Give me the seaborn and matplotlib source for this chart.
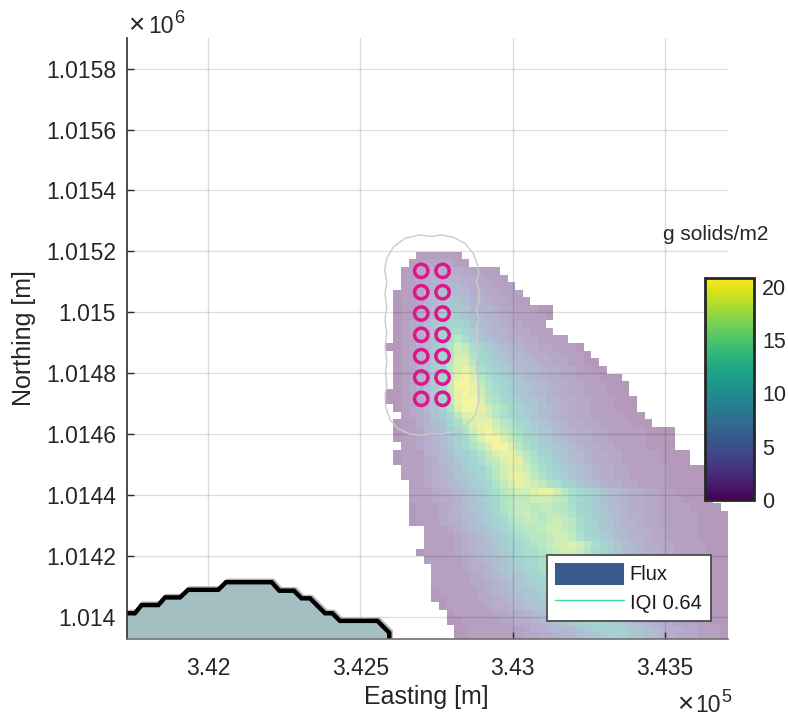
import numpy as np
import pandas as pd
import seaborn as sns
import matplotlib
matplotlib.use("Agg")
import matplotlib.pyplot as plt
from matplotlib.lines import Line2D
from matplotlib.patches import Patch

# plume cells, one string per row from the north edge, 0-9 then a=10 ... l=21 g/m2
row_start = [4, 3, 2, 2, 2, 1, 1, 1, 1, 1, 1, 1, 0, 1, 1, 1, 1, 1, 0, 0, 1, 2, 1, 1, 1, 2,
             1, 1, 2, 2, 3, 3, 3, 3, 3, 3, 5, 5, 5, 4, 5, 6, 6, 6, 6, 6, 7, 8, 8, 9, 9]
row_vals = [
    "111111",
    "11222211",
    "1123333322111",
    "11234444332111",
    "112345554322111",
    "01124566653322111",
    "011245777644322111",
    "011346888754432211100",
    "0113568a9865443211110",
    "0123579bba7654322111",
    "012357acdb97544322111",
    "012358adfda865433221111",
    "0012458behgdb9765433221110",
    "012468behheba8755433221110",
    "012469bfiifcb98655433221100",
    "012469bfijhdca97655433221100",
    "012469cgjkifdba876543322111000",
    "012469cgkkjgecb9876543322111000",
    "0012469cgjkjhedba876543322111000",
    "0012358bfjkkifecb9876443322111000",
    "012357aeikkjhfecb986543322111000",
    "123479cfijihfdca9865433221111000",
    "0113468bdgijjhfecb9865433221111000",
    "01124579behjkigfdba875443322111110000",
    "01123568acfikkigecb986543322111110000",
    "1123468acegikkifdca97654332211110000",
    "011134579acegijjhfdba876543322111110000",
    "0111235689bdfgijjgecb986543322111110000",
    "111234679abdfhiihfdca97654332211111000000",
    "1112345789bdfhjjigecb98654332211111000000",
    "112345679acegijihgedba865433221111000000",
    "1112345689bdfghhijjhfdca9765433221100000",
    "1112334679acefgghhhgfdca9765433221110000",
    "0111234578acefggfggfedba97654332211110000",
    "01112345689bdfghgfggfecb986543322111110000",
    "01112335679acefggfghgfdba87544322111110000",
    "1112345689bdeffghhgfdba87654332211110000",
    "1111234578abdeffghhgecb98654432211110000",
    "11112345689acdefghhihfdba865433221111000",
    "011112345689acddefghhgecb9765433221111000",
    "111112345679abcdefggffdba875433221111000",
    "111123346789bcdefffedba8765433221110000",
    "111112345678abcdeeedcb98754432211110000",
    "1111122345689abcdddcba97654332211110000",
    "01111123456789abccccba97654332211100000",
    "001111223456789abcccba98654332211100000",
    "011111233456789abbccba9865433221110000",
    "0111112233456789abbbba986543221111000",
    "00111112233456789aabba976543221110000",
    "0011111112334556789aaa98765433221110",
    "00111111122334556789aa98765432221110",
]

# model domain, metres
cell_size = 25
cell_e0 = 342583.3
cell_n0 = 1015199.0

x_ticks = [342000, 342500, 343000, 343500]
x_labels = ["3.42", "3.425", "3.43", "3.435"]
y_ticks = [1015800, 1015600, 1015400, 1015200, 1015000, 1014800, 1014600, 1014400, 1014200, 1014000]
y_labels = ["1.0158", "1.0156", "1.0154", "1.0152", "1.015", "1.0148", "1.0146", "1.0144", "1.0142", "1.014"]
cbar_ticks = [0, 5, 10, 15, 20]
cbar_max = 20.8

# sources
src_e = [342700, 342770]
src_n = [1015136, 1015066, 1014996, 1014926, 1014856, 1014786, 1014716]

# grey outline around the sources
outline_e = [342734, 342767, 342806, 342844, 342871, 342885, 342889, 342882, 342889, 342890,
             342882, 342890, 342884, 342882, 342889, 342884, 342880, 342888, 342889, 342888,
             342877, 342849, 342806, 342767, 342734, 342702, 342663, 342625, 342598, 342583,
             342581, 342587, 342583, 342587, 342581, 342587, 342581, 342587, 342581, 342587,
             342580, 342587, 342609, 342647, 342696, 342734]
outline_n = [1015249, 1015254, 1015246, 1015226, 1015193, 1015155, 1015128, 1015100, 1015073, 1015040,
             1015007, 1014975, 1014958, 1014920, 1014887, 1014849, 1014816, 1014778, 1014734, 1014701,
             1014663, 1014630, 1014608, 1014600, 1014602, 1014597, 1014600, 1014617, 1014646, 1014690,
             1014728, 1014756, 1014799, 1014843, 1014887, 1014931, 1014975, 1015018, 1015062, 1015100,
             1015139, 1015177, 1015215, 1015243, 1015254, 1015249]

# lake shore
hill_e = [341733, 341760, 341782, 341837, 341859, 341908, 341935, 342034, 342059, 342209,
          342234, 342282, 342307, 342335, 342384, 342408, 342433, 342556, 342595, 342595]
hill_n = [1014012, 1014012, 1014039, 1014039, 1014064, 1014064, 1014089, 1014089, 1014114, 1014114,
          1014086, 1014086, 1014061, 1014061, 1014012, 1014012, 1013987, 1013987, 1013948, 1013924]


def to_col(e):
    return (np.asarray(e, dtype=float) - cell_e0) / cell_size


def to_row(n):
    return (cell_n0 - np.asarray(n, dtype=float)) / cell_size


flux = np.full((len(row_vals), 45), np.nan)
for i, (start, vals) in enumerate(zip(row_start, row_vals)):
    flux[i, start:start + len(vals)] = [int(c, 22) for c in vals]
flux_df = pd.DataFrame(flux)

sns.set_style("white")
plt.rcParams["font.family"] = ["Liberation Sans", "DejaVu Sans"]
text_color = "#262626"

fig = plt.figure(figsize=(7.88, 7.2), dpi=100)
ax = fig.add_axes([127 / 788, 81 / 720, 601 / 788, 601 / 720])
cax = fig.add_axes([705 / 788, 220 / 720, 49 / 788, 222 / 720])

sns.heatmap(flux_df, ax=ax, cmap="viridis", vmin=0, vmax=cbar_max, alpha=0.4,
            xticklabels=False, yticklabels=False, cbar_ax=cax, cbar=True)

# shore, opaque over the grid
ax.fill(to_col(hill_e + [341733]), to_row(hill_n + [1013924]), color="#a4bfc1", zorder=2.6, lw=0)
ax.plot(to_col(hill_e) + 0.2, to_row(hill_n) - 0.2, color="#b4b4b4", lw=3.0, zorder=2.7,
        solid_joinstyle="miter", solid_capstyle="butt")
ax.plot(to_col(hill_e), to_row(hill_n), color="black", lw=3.2, zorder=2.8,
        solid_joinstyle="miter", solid_capstyle="butt")

ax.plot(to_col(outline_e), to_row(outline_n), color="#cbcbcb", lw=1.0, zorder=2.7)

grid_e, grid_n = np.meshgrid(src_e, src_n)
sns.scatterplot(x=to_col(grid_e.ravel()), y=to_row(grid_n.ravel()), ax=ax, s=92,
                facecolors="none", edgecolor="#e0148c", linewidth=2.5, legend=False, zorder=3)

ax.set_xlim(-33.97, 44.95)
ax.set_ylim(50.86, -28.06)
ax.set_xticks(to_col(x_ticks))
ax.set_xticklabels(x_labels)
ax.set_yticks(to_row(y_ticks))
ax.set_yticklabels(y_labels)
ax.set_axisbelow(False)
ax.grid(True, color="black", alpha=0.13, lw=1.0)
ax.tick_params(direction="in", length=5, width=1.0, color="#262640", labelsize=16.5,
               labelcolor=text_color, left=True, bottom=True)
ax.tick_params(axis="x", pad=13)
ax.tick_params(axis="y", pad=8)
for side in ["left", "bottom"]:
    ax.spines[side].set_visible(True)
    ax.spines[side].set_linewidth(1.2)
    ax.spines[side].set_zorder(3.5)
ax.spines["left"].set_color("#303030")
ax.spines["bottom"].set_color("#707070")
for side in ["top", "right"]:
    ax.spines[side].set_visible(False)
ax.patch.set_alpha(0)

fig.text(426 / 788, 1 - 697 / 720, "Easting [m]", fontsize=18, color=text_color, ha="center", va="center")
fig.text(24 / 788, 1 - 338 / 720, "Northing [m]", fontsize=18, color=text_color, ha="center", va="center",
         rotation=90)

# exponents of the two axes
fig.text(136.5 / 788, 1 - 33 / 720, "\u00d7", fontsize=20, color=text_color, ha="center", va="baseline")
fig.text(148 / 788, 1 - 33 / 720, "10", fontsize=16.5, color=text_color, ha="left", va="baseline")
fig.text(174.5 / 788, 1 - 23 / 720, "6", fontsize=13, color=text_color, ha="left", va="baseline")
fig.text(685 / 788, 1 - 712 / 720, "\u00d7", fontsize=20, color=text_color, ha="center", va="baseline")
fig.text(695 / 788, 1 - 712 / 720, "10", fontsize=16.5, color=text_color, ha="left", va="baseline")
fig.text(721.5 / 788, 1 - 702 / 720, "5", fontsize=13, color=text_color, ha="left", va="baseline")

fig.text(716 / 788, 1 - 235 / 720, "g solids/m2", fontsize=15, color=text_color, ha="center", va="center")

cbar = ax.collections[0].colorbar
cbar.solids.set_alpha(1)
cbar.set_ticks(cbar_ticks)
cbar.ax.tick_params(direction="in", length=4, width=1.2, color="#262626", labelsize=15.5,
                    labelcolor=text_color, pad=6, right=True)
cbar.outline.set_linewidth(2.0)
cbar.outline.set_edgecolor("#262626")
cbar.outline.set_visible(True)

handles = [Patch(facecolor="#385a8c", edgecolor="none", label="Flux"),
           Line2D([0], [0], color="#3cdca0", lw=1.0, label="IQI 0.64")]
leg = ax.legend(handles=handles, loc="lower left", bbox_to_anchor=(547 / 788, 99 / 720, 164 / 788, 67 / 720),
                bbox_transform=fig.transFigure, mode="expand", frameon=True, fancybox=False, framealpha=1,
                edgecolor="#404040", fontsize=14.5, handlelength=3.4, handleheight=1.3,
                handletextpad=0.3, labelspacing=0.32, borderpad=0.4, borderaxespad=0)
leg.get_frame().set_linewidth(1.2)
leg.set_zorder(10)
for t in leg.get_texts():
    t.set_color("#1a1a1a")

fig.savefig("out.png", dpi=100, facecolor="white")
